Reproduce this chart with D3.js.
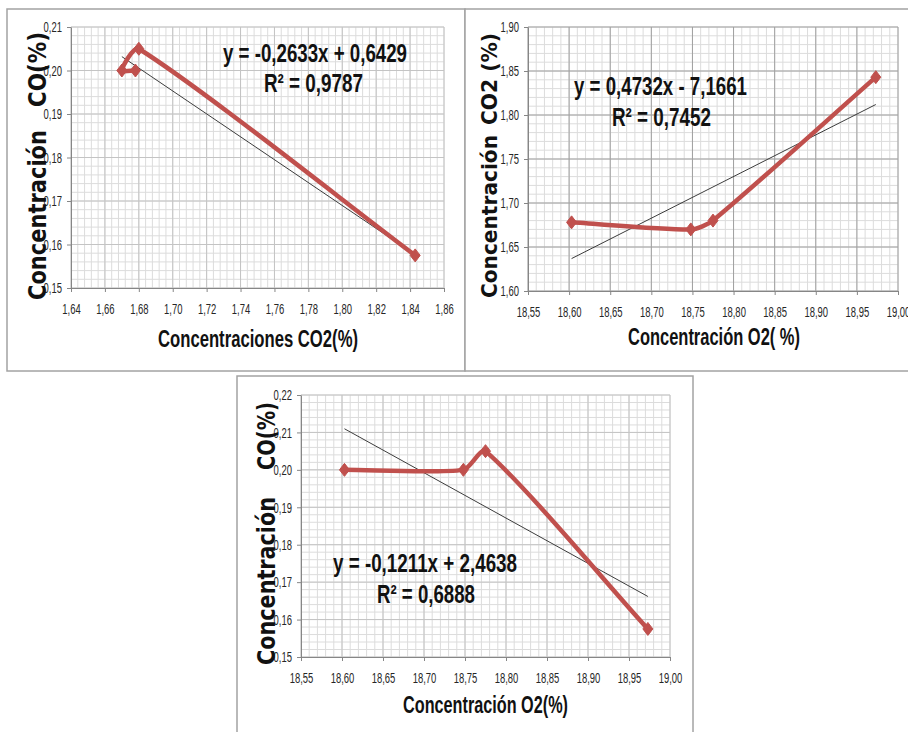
<!doctype html>
<html lang="es">
<head>
    <meta charset="UTF-8">
    <title>Concentraciones CO, CO2 y O2</title>
    <script src="https://cdnjs.cloudflare.com/ajax/libs/d3/7.8.5/d3.min.js"></script>
    <style>
        html, body {
            margin: 0;
            padding: 0;
            background: #fff;
            overflow: hidden;
        }
        text {
            font-family: "Liberation Sans", Arial, sans-serif;
        }
    </style>
</head>
<body>
<svg id="chart" width="908" height="732"></svg>
<script>
    // four samples, same order in every panel
    const o2 = [18.603, 18.748, 18.775, 18.973];
    const co2 = [1.678, 1.670, 1.680, 1.843];
    const co = [0.200, 0.200, 0.205, 0.1575];

    // linear trend lines as printed on the charts
    const slopes = [-0.2633, 0.4732, -0.1211];
    const intercepts = [0.6429, -7.1661, 2.4638];
    const r2 = [0.9787, 0.7452, 0.6888];

    // tick labels
    const ticksCO2x = [1.64, 1.66, 1.68, 1.70, 1.72, 1.74, 1.76, 1.78, 1.80, 1.82, 1.84, 1.86];
    const ticksCOtop = [0.15, 0.16, 0.17, 0.18, 0.19, 0.20, 0.21];
    const ticksO2 = [18.55, 18.60, 18.65, 18.70, 18.75, 18.80, 18.85, 18.90, 18.95, 19.00];
    const ticksCO2y = [1.60, 1.65, 1.70, 1.75, 1.80, 1.85, 1.90];
    const ticksCObot = [0.15, 0.16, 0.17, 0.18, 0.19, 0.20, 0.21, 0.22];

    const svg = d3.select("#chart");
    const red = "#C0504D";

    const comma = (v, n) => d3.format("." + n + "f")(v).replace(".", ",");
    const eqText = i => "y = " + (slopes[i] < 0 ? "-" : "") + comma(Math.abs(slopes[i]), 4) + "x " +
        (intercepts[i] < 0 ? "- " : "+ ") + comma(Math.abs(intercepts[i]), 4);

    // squeeze a text to a given width (the original uses narrow fonts)
    function fit(sel, w) {
        sel.each(function() {
            const n = this.getComputedTextLength();
            const t = typeof w === "function" ? w(n) : w;
            d3.select(this).attr("textLength", t).attr("lengthAdjust", "spacingAndGlyphs");
        });
    }

    // Excel-like smoothed line: tangent along neighbours, weighted by segment length
    function smooth(pts) {
        const p = d3.path();
        const k = 0.24;
        const dist = (a, b) => Math.hypot(b[0] - a[0], b[1] - a[1]);
        p.moveTo(pts[0][0], pts[0][1]);
        for (let i = 0; i < pts.length - 1; i++) {
            const a = pts[i - 1] || pts[i], b = pts[i], c = pts[i + 1], d = pts[i + 2] || pts[i + 1];
            const bc = dist(b, c);
            const w1 = bc / (dist(a, b) + bc) * k;
            const w2 = bc / (bc + dist(c, d)) * k;
            p.bezierCurveTo(
                b[0] + (c[0] - a[0]) * w1, b[1] + (c[1] - a[1]) * w1,
                c[0] - (d[0] - b[0]) * w2, c[1] - (d[1] - b[1]) * w2,
                c[0], c[1]);
        }
        return p.toString();
    }

    const panels = [
        {
            box: [7, 9, 465, 371], plot: [71, 27, 444, 288],
            xs: co2, ys: co, xTicks: ticksCO2x, yTicks: ticksCOtop, xMinor: 0.004, yMinor: 0.002,
            major: "#c4c4c4", trend: 0,
            eq: [223, 62, 184, 264, 92, 99],
            xTitle: ["Concentraciones  CO2(%)", 158, 347, 200],
            yTitle: [46, 24, ["Concentración", 300, 170], ["CO(%)", 107, 75]]
        },
        {
            box: [465, 9, 912, 371], plot: [528, 27, 898, 291],
            xs: o2, ys: co2, xTicks: ticksO2, yTicks: ticksCO2y, xMinor: 0.01, yMinor: 0.01,
            major: "#a0a0a0", trend: 1,
            eq: [574, 95, 173, 612, 126, 99],
            xTitle: ["Concentración  O2( %)", 628, 345, 172],
            yTitle: [497, 22, ["Concentración", 298, 163], ["CO2 (%)", 125, 92]]
        },
        {
            box: [237, 376, 693, 740], plot: [301, 395, 670, 657],
            xs: o2, ys: co, xTicks: ticksO2, yTicks: ticksCObot, xMinor: 0.01, yMinor: 0.002,
            major: "#c4c4c4", trend: 2,
            eq: [333, 572, 184, 377, 603, 98],
            xTitle: ["Concentración  O2(%)", 403, 713, 165],
            yTitle: [275, 24, ["Concentración", 665, 168], ["CO(%)", 470, 68]]
        }
    ];

    panels.forEach(p => {
        const [bx0, by0, bx1, by1] = p.box;
        const [px0, py0, px1, py1] = p.plot;

        svg.append("rect")
            .attr("x", bx0).attr("y", by0)
            .attr("width", bx1 - bx0).attr("height", by1 - by0)
            .attr("fill", "#fff").attr("stroke", "#a3a3a3").attr("stroke-width", 1.5);

        const x = d3.scaleLinear().domain(d3.extent(p.xTicks)).range([px0, px1]);
        const y = d3.scaleLinear().domain(d3.extent(p.yTicks)).range([py1, py0]);

        const g = svg.append("g");

        // minor grid
        const xm = d3.range(x.domain()[0], x.domain()[1] + 1e-9, p.xMinor);
        const ym = d3.range(y.domain()[0], y.domain()[1] + 1e-9, p.yMinor);
        g.selectAll(".xm").data(xm).enter().append("line")
            .attr("x1", d => x(d)).attr("x2", d => x(d)).attr("y1", py0).attr("y2", py1)
            .attr("stroke", "#dcdcdc").attr("stroke-width", 1);
        g.selectAll(".ym").data(ym).enter().append("line")
            .attr("x1", px0).attr("x2", px1).attr("y1", d => y(d)).attr("y2", d => y(d))
            .attr("stroke", "#dcdcdc").attr("stroke-width", 1);
        // major grid
        g.selectAll(".xM").data(p.xTicks).enter().append("line")
            .attr("x1", d => x(d)).attr("x2", d => x(d)).attr("y1", py0).attr("y2", py1)
            .attr("stroke", p.major).attr("stroke-width", 1);
        g.selectAll(".yM").data(p.yTicks).enter().append("line")
            .attr("x1", px0).attr("x2", px1).attr("y1", d => y(d)).attr("y2", d => y(d))
            .attr("stroke", p.major).attr("stroke-width", 1);

        // axes
        const ax = g.append("g")
            .attr("transform", "translate(0," + py1 + ")")
            .call(d3.axisBottom(x).tickValues(p.xTicks).tickFormat(d => comma(d, 2))
                .tickSize(4).tickSizeOuter(0).tickPadding(11));
        const ay = g.append("g")
            .attr("transform", "translate(" + px0 + ",0)")
            .call(d3.axisLeft(y).tickValues(p.yTicks).tickFormat(d => comma(d, 2))
                .tickSize(4).tickSizeOuter(0).tickPadding(5));
        [ax, ay].forEach(a => {
            a.select(".domain").attr("stroke", "#868686");
            a.selectAll(".tick line").attr("stroke", "#868686");
            a.selectAll(".tick text")
                .attr("fill", "#262626")
                .style("font-size", "15px")
                .style("font-family", "\"Liberation Sans\", Arial, sans-serif");
            fit(a.selectAll(".tick text"), n => n * 0.63);
        });

        // trend line
        const t = p.trend;
        const xe = d3.extent(p.xs);
        g.append("line")
            .attr("x1", x(xe[0])).attr("y1", y(slopes[t] * xe[0] + intercepts[t]))
            .attr("x2", x(xe[1])).attr("y2", y(slopes[t] * xe[1] + intercepts[t]))
            .attr("stroke", "#3c3c3c").attr("stroke-width", 1);

        // smoothed series
        const pts = p.xs.map((v, i) => [x(v), y(p.ys[i])]);
        g.append("path")
            .attr("d", smooth(pts))
            .attr("fill", "none").attr("stroke", red)
            .attr("stroke-width", 4.5).attr("stroke-linejoin", "round").attr("stroke-linecap", "round");
        g.selectAll(".mk").data(pts).enter().append("path")
            .attr("transform", d => "translate(" + d[0] + "," + d[1] + ")")
            .attr("d", "M0,-6.5L5,0L0,6.5L-5,0Z")
            .attr("fill", red).attr("stroke", red).attr("stroke-width", 1);

        // equation
        const e = p.eq;
        const eq1 = g.append("text").attr("x", e[0]).attr("y", e[1])
            .attr("font-weight", "bold").style("font-size", "25px").attr("fill", "#111")
            .text(eqText(t));
        fit(eq1, e[2]);
        const eq2 = g.append("text").attr("x", e[3]).attr("y", e[4])
            .attr("font-weight", "bold").style("font-size", "25px").attr("fill", "#111")
            .text("R\u00B2 = " + comma(r2[t], 4));
        fit(eq2, e[5]);

        // axis titles
        const xt = g.append("text").attr("x", p.xTitle[1]).attr("y", p.xTitle[2])
            .attr("font-weight", "bold").style("font-size", "23px").attr("fill", "#111")
            .text(p.xTitle[0]);
        fit(xt, p.xTitle[3]);

        const [bx, fs, ...parts] = p.yTitle;
        parts.forEach(q => {
            const yt = g.append("text")
                .attr("transform", "translate(" + bx + "," + q[1] + ") rotate(-90)")
                .attr("font-weight", "bold")
                .style("font-family", "\"DejaVu Sans\", Verdana, sans-serif")
                .style("font-size", fs + "px").attr("fill", "#111")
                .text(q[0]);
            fit(yt, q[2]);
        });
    });
</script>
</body>
</html>
